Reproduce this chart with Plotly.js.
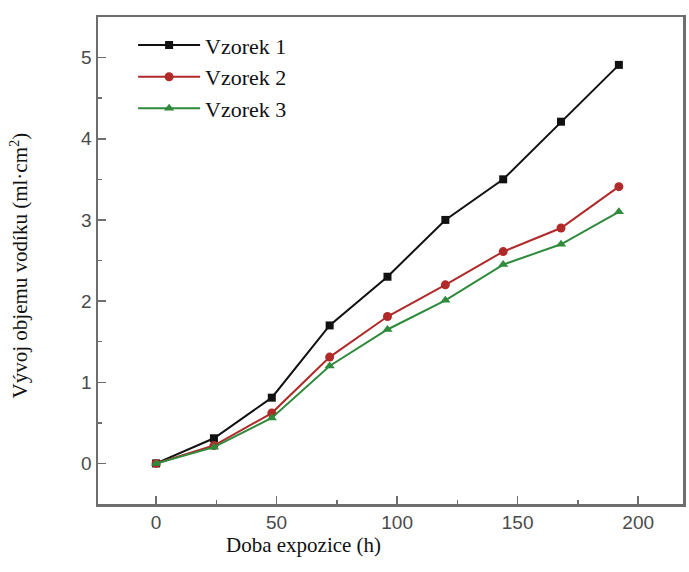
<!DOCTYPE html>
<html>
<head>
<meta charset="utf-8">
<script src="https://cdn.plot.ly/plotly-3.0.1.min.js"></script>
<style>html,body{margin:0;padding:0;background:#fff;}#chart{width:689px;height:572px;}</style>
</head>
<body>
<div id="chart"></div>
<script>
const hours = [0, 24, 48, 72, 96, 120, 144, 168, 192];
const vzorek1 = [0, 0.31, 0.81, 1.70, 2.30, 3.00, 3.50, 4.21, 4.91];
const vzorek2 = [0, 0.22, 0.62, 1.31, 1.81, 2.20, 2.61, 2.90, 3.41];
const vzorek3 = [0, 0.20, 0.56, 1.20, 1.65, 2.01, 2.45, 2.70, 3.10];
const seriesNames = ["Vzorek 1", "Vzorek 2", "Vzorek 3"];
const xTitle = "Doba expozice (h)";
const yTitle = "Vývoj objemu vodíku (ml·cm<sup>2</sup>)";

const serif = '"Liberation Serif", "Times New Roman", Times, serif';
const sans = '"Liberation Sans", Arial, sans-serif';

const traces = [
  {x: hours, y: vzorek1, name: seriesNames[0], mode: "lines+markers",
   line: {color: "#111111", width: 2}, marker: {symbol: "square", size: 8, color: "#111111"}},
  {x: hours, y: vzorek2, name: seriesNames[1], mode: "lines+markers",
   line: {color: "#b02a2a", width: 2}, marker: {symbol: "circle", size: 9, color: "#b02a2a"}},
  {x: hours, y: vzorek3, name: seriesNames[2], mode: "lines+markers",
   line: {color: "#2f8a3c", width: 2}, marker: {symbol: "triangle-up", size: 9, color: "#2f8a3c"}}
];

const axisCommon = {
  showline: true, linecolor: "#6e6e6e", linewidth: 2.5, mirror: true,
  ticks: "inside", ticklen: 8, tickwidth: 1.5, tickcolor: "#6e6e6e",
  showgrid: false, zeroline: false,
  tickfont: {family: sans, size: 19, color: "#4a4a4a"}
};

const layout = {
  width: 689, height: 572,
  margin: {l: 98, r: 6, t: 17, b: 68},
  paper_bgcolor: "#fff", plot_bgcolor: "#fff",
  showlegend: true,
  legend: {x: 0.06, y: 0.985, xanchor: "left", yanchor: "top",
    bgcolor: "rgba(0,0,0,0)", font: {family: serif, size: 22, color: "#111"},
    tracegroupgap: 0, itemwidth: 62},
  xaxis: Object.assign({}, axisCommon, {
    range: [-24.1, 218.6], tickvals: [0, 50, 100, 150, 200],
    minor: {tickvals: [25, 75, 125, 175], ticks: "inside", ticklen: 4, tickcolor: "#6e6e6e"}
  }),
  yaxis: Object.assign({}, axisCommon, {
    range: [-0.5, 5.5], tickvals: [0, 1, 2, 3, 4, 5],
    minor: {tickvals: [0.5, 1.5, 2.5, 3.5, 4.5], ticks: "inside", ticklen: 4, tickcolor: "#6e6e6e"}
  }),
  annotations: [
    {text: xTitle, xref: "paper", yref: "paper", x: 0.352, y: -0.084, yanchor: "middle",
     showarrow: false, font: {family: serif, size: 21, color: "#111"}},
    {text: yTitle, xref: "paper", yref: "paper", x: -0.135, y: 0.49, xanchor: "center",
     textangle: -90, showarrow: false, font: {family: serif, size: 21, color: "#111"}}
  ]
};

Plotly.newPlot("chart", traces, layout, {displayModeBar: false, staticPlot: true});
</script>
</body>
</html>
